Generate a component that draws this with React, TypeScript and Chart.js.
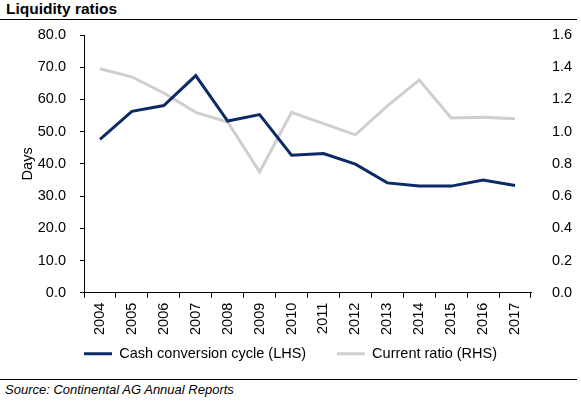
import { useEffect, useRef } from "react"
import { Chart, registerables } from "chart.js"

Chart.register(...registerables)

// data
const years = ["2004", "2005", "2006", "2007", "2008", "2009", "2010", "2011", "2012", "2013", "2014", "2015", "2016", "2017"]
const cashConversionCycle = [47.6, 56.3, 58.1, 67.4, 53.3, 55.3, 42.7, 43.2, 39.9, 34.1, 33.1, 33.1, 35.0, 33.3]
const currentRatio = [1.39, 1.34, 1.24, 1.12, 1.06, 0.75, 1.12, 1.05, 0.98, 1.16, 1.32, 1.085, 1.09, 1.08]
const daysAxis = [0, 80, 10] // min, max, step
const ratioAxis = [0, 1.6, 0.2]

const FONT = "'Liberation Sans', Arial, sans-serif"
const NAVY = "#0c2a66"
const GREY = "#cfcfcf"

export default function App() {
  const chartRef = useRef<HTMLCanvasElement>(null)
  const chartInstance = useRef<Chart | null>(null)

  useEffect(() => {
    document.body.style.margin = "0"
    if (!chartRef.current) return
    const ctx = chartRef.current.getContext("2d")
    if (!ctx) return

    if (chartInstance.current) chartInstance.current.destroy()

    const tickFont = { family: FONT, size: 14.5 }

    chartInstance.current = new Chart(ctx, {
      type: "line",
      data: {
        labels: years,
        datasets: [
          {
            label: "Cash conversion cycle (LHS)",
            data: cashConversionCycle,
            borderColor: NAVY,
            backgroundColor: NAVY,
            borderWidth: 3,
            pointRadius: 0,
            tension: 0,
            yAxisID: "y",
          },
          {
            label: "Current ratio (RHS)",
            data: currentRatio,
            borderColor: GREY,
            backgroundColor: GREY,
            borderWidth: 3,
            pointRadius: 0,
            tension: 0,
            yAxisID: "y1",
          },
        ],
      },
      options: {
        responsive: false,
        animation: false,
        layout: { padding: { top: 15, left: 0, right: 0, bottom: 0 } },
        scales: {
          x: {
            offset: true,
            grid: {
              display: true,
              drawOnChartArea: false,
              drawTicks: true,
              tickLength: 5,
              color: "#000",
              offset: true,
            },
            border: { display: true, color: "#000", width: 1 },
            ticks: {
              minRotation: 90,
              maxRotation: 90,
              padding: 5,
              color: "#000",
              font: tickFont,
            },
          },
          y: {
            position: "left",
            min: daysAxis[0],
            max: daysAxis[1],
            ticks: {
              stepSize: daysAxis[2],
              callback: (v) => Number(v).toFixed(1),
              padding: 14,
              color: "#000",
              font: tickFont,
            },
            grid: { drawOnChartArea: false, tickLength: 4, color: "#000" },
            border: { color: "#000" },
            title: {
              display: true,
              text: "Days",
              color: "#000",
              font: tickFont,
              padding: { top: 19, bottom: 0 },
            },
            afterFit: (s) => {
              s.width = 84
              s.paddingTop = 0
              s.paddingBottom = 0
            },
          },
          y1: {
            position: "right",
            min: ratioAxis[0],
            max: ratioAxis[1],
            ticks: {
              stepSize: ratioAxis[2],
              callback: (v) => Number(v).toFixed(1),
              padding: 13,
              color: "#000",
              font: tickFont,
            },
            grid: { display: false },
            border: { display: false },
            afterFit: (s) => {
              s.width = 50
              s.paddingTop = 0
              s.paddingBottom = 0
            },
          },
        },
        plugins: {
          tooltip: { enabled: false },
          legend: {
            position: "bottom",
            labels: {
              boxWidth: 28,
              boxHeight: 3,
              padding: 6.5,
              color: "#000",
              font: tickFont,
              // trailing spaces widen the gap between the two entries
              generateLabels: (chart) =>
                Chart.defaults.plugins.legend.labels
                  .generateLabels(chart)
                  .map((l, i) => ({ ...l, lineWidth: 0, text: i === 0 ? l.text + "      " : l.text })),
            },
          },
        },
      },
    })

    return () => {
      if (chartInstance.current) {
        chartInstance.current.destroy()
        chartInstance.current = null
      }
    }
  }, [])

  return (
    <div style={{ position: "relative", width: 581, height: 401, background: "#fff", overflow: "hidden" }}>
      <div
        style={{
          position: "absolute",
          left: 6,
          top: 1,
          fontFamily: FONT,
          fontWeight: "bold",
          fontSize: 15.5,
          lineHeight: "16px",
          color: "#000",
        }}
      >
        Liquidity ratios
      </div>
      <div style={{ position: "absolute", left: 0, top: 19, width: 577, height: 1, background: "#000" }} />
      <div style={{ position: "absolute", left: 0, top: 20 }}>
        <canvas ref={chartRef} width={581} height={351} />
      </div>
      <div style={{ position: "absolute", left: 0, top: 379, width: 577, height: 1, background: "#000" }} />
      <div
        style={{
          position: "absolute",
          left: 5,
          top: 383,
          fontFamily: FONT,
          fontStyle: "italic",
          fontSize: 13,
          lineHeight: "14px",
          color: "#000",
        }}
      >
        Source: Continental AG Annual Reports
      </div>
    </div>
  )
}
